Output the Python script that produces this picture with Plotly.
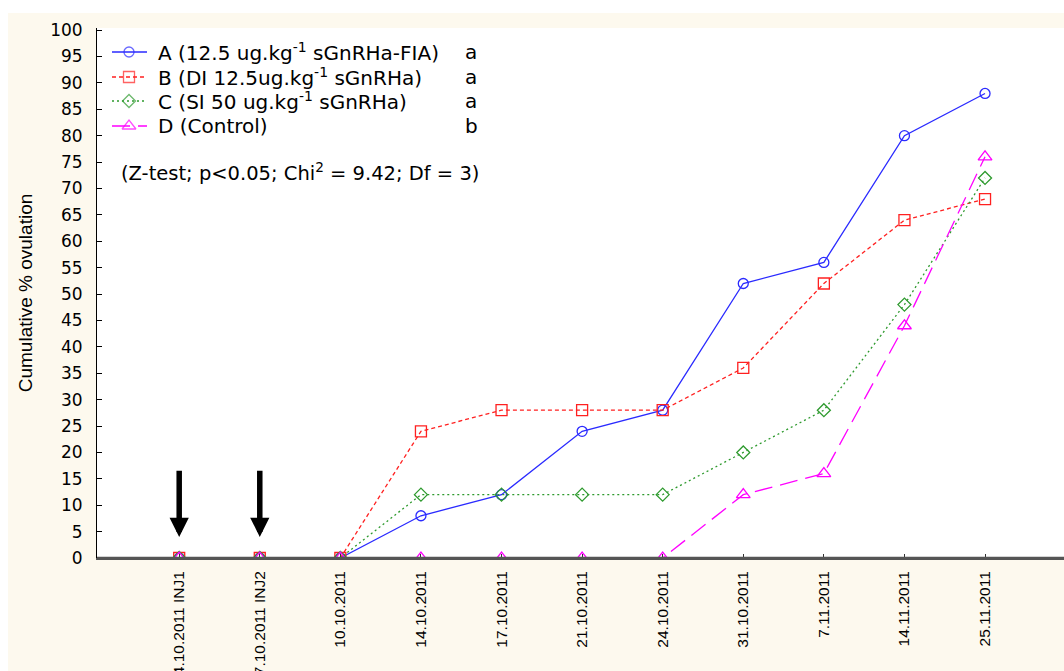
import plotly.graph_objects as go

# Sampling dates (first two are the injection days)
dates = ["4.10.2011 INJ1", "7.10.2011 INJ2", "10.10.2011", "14.10.2011", "17.10.2011",
         "21.10.2011", "24.10.2011", "31.10.2011", "7.11.2011", "14.11.2011", "25.11.2011"]

# Cumulative ovulation (%) per treatment group
group_a = [0, 0, 0, 8, 12, 24, 28, 52, 56, 80, 88]
group_b = [0, 0, 0, 24, 28, 28, 28, 36, 52, 64, 68]
group_c = [0, 0, 0, 12, 12, 12, 12, 20, 28, 48, 72]
group_d = [0, 0, 0, 0, 0, 0, 0, 12, 16, 44, 76]

names = ["A (12.5 ug.kg<sup>-1</sup> sGnRHa-FIA)",
         "B (DI 12.5ug.kg<sup>-1</sup> sGnRHa)",
         "C (SI 50 ug.kg<sup>-1</sup> sGnRHa)",
         "D (Control)"]
letters = ["a", "a", "a", "b"]
stat_note = "(Z-test; p<0.05; Chi<sup>2</sup> = 9.42; Df = 3)"

# Injection markers (arrow tail / tip in % units)
inj_dates = ["4.10.2011 INJ1", "7.10.2011 INJ2"]
arrow_tail = 16.8
arrow_tip = 4.0

cream = "#fdf9ee"
W, H = 1064, 671
ml, mr, mt, mb = 97, 0, 28, 113
pw, ph = W - ml - mr, H - mt - mb

styles = [
    dict(color="#2a2aff", dash="solid", symbol="circle-open", size=10),
    dict(color="#ff2020", dash="4px,3px", symbol="square-open", size=11),
    dict(color="#2e9a2e", dash="2px,3px", symbol="diamond-open", size=10),
    dict(color="#ff00ff", dash="18px,8px", symbol="triangle-up-open", size=12),
]

font = "DejaVu Sans, Verdana, sans-serif"
tickfont = "Liberation Sans, Arial, sans-serif"


def px_x(p):
    return (p - ml) / pw


def px_y(p):
    return (H - mb - p) / ph


fig = go.Figure()
for vals, nm, st in zip([group_a, group_b, group_c, group_d], names, styles):
    fig.add_trace(go.Scatter(
        x=dates, y=vals, name=nm, mode="lines+markers", showlegend=False,
        line=dict(color=st["color"], width=1.3, dash=st["dash"]),
        marker=dict(symbol=st["symbol"], size=st["size"], color=st["color"],
                    line=dict(width=1.3, color=st["color"])),
        cliponaxis=True,
    ))

# Hand-built legend: sample line + marker on a pixel-scaled overlay axis
legend_rows = [52, 77, 101, 126]
annotations = []
for row, nm, lt, st in zip(legend_rows, names, letters, styles):
    yy = H - mb - row
    fig.add_trace(go.Scatter(
        x=[112 - ml, 129 - ml, 147 - ml], y=[yy, yy, yy], xaxis="x2", yaxis="y2",
        mode="lines+markers", showlegend=False, hoverinfo="skip",
        line=dict(color=st["color"], width=1.3, dash=st["dash"]),
        marker=dict(symbol=st["symbol"], size=[0, st["size"], 0], color=st["color"],
                    line=dict(width=1.3, color=st["color"])),
    ))
    annotations.append(dict(
        x=px_x(156), y=px_y(row), xref="paper", yref="paper", text=nm, showarrow=False,
        font=dict(family=font, size=20, color="black"), xanchor="left", yanchor="middle",
    ))
    annotations.append(dict(
        x=px_x(471), y=px_y(row), xref="paper", yref="paper", text=lt, showarrow=False,
        font=dict(family=font, size=20, color="black"), xanchor="center", yanchor="middle",
    ))

annotations.append(dict(
    x=px_x(119), y=px_y(172), xref="paper", yref="paper", text=stat_note, showarrow=False,
    font=dict(family=font, size=19.5, color="black"), xanchor="left", yanchor="middle",
))

for d in inj_dates:
    annotations.append(dict(
        x=d, y=arrow_tip, ax=d, ay=arrow_tail, xref="x", yref="y", axref="x", ayref="y",
        showarrow=True, arrowhead=2, arrowsize=0.7, arrowwidth=5.5, arrowcolor="black", text="",
    ))

shapes = [
    # white strips around the chart paper
    dict(type="rect", xref="paper", yref="paper", layer="below",
         x0=-ml / pw, x1=px_x(8), y0=-mb / ph, y1=px_y(0),
         fillcolor="white", line=dict(width=0)),
    dict(type="rect", xref="paper", yref="paper", layer="below",
         x0=-ml / pw, x1=1.0, y0=px_y(13), y1=px_y(0),
         fillcolor="white", line=dict(width=0)),
    # baseline drawn over the zero-valued segments
    dict(type="line", xref="paper", yref="paper", layer="above",
         x0=0, x1=1, y0=0, y1=0, line=dict(color="#555555", width=2.5)),
]

fig.update_layout(
    width=W, height=H,
    margin=dict(l=ml, r=mr, t=mt, b=mb),
    paper_bgcolor=cream, plot_bgcolor="white",
    showlegend=False,
    annotations=annotations,
    shapes=shapes,
    xaxis=dict(
        type="category", categoryorder="array", categoryarray=dates,
        range=[-1.02, 10.98], showgrid=False, zeroline=False, automargin=False,
        showline=True, linecolor="#555555", linewidth=2,
        ticks="inside", ticklen=4, tickcolor="#333333", tickwidth=1,
        tickangle=-90, ticklabelstandoff=5,
        tickfont=dict(family=tickfont, size=15.5, color="black"),
    ),
    yaxis=dict(
        range=[0, 100.4], tickmode="array", tickvals=list(range(0, 101, 5)),
        showgrid=False, zeroline=False, automargin=False,
        showline=True, linecolor="black", linewidth=1,
        ticks="inside", ticklen=5, tickcolor="black", ticklabelstandoff=10,
        tickfont=dict(family=font, size=17, color="black"),
        title=dict(text="Cumulative % ovulation",
                   font=dict(family=tickfont, size=19, color="black"), standoff=12),
    ),
    xaxis2=dict(overlaying="x", range=[0, pw], visible=False, fixedrange=True),
    yaxis2=dict(overlaying="y", range=[0, ph], visible=False, fixedrange=True),
)

fig.write_html("out.html")
